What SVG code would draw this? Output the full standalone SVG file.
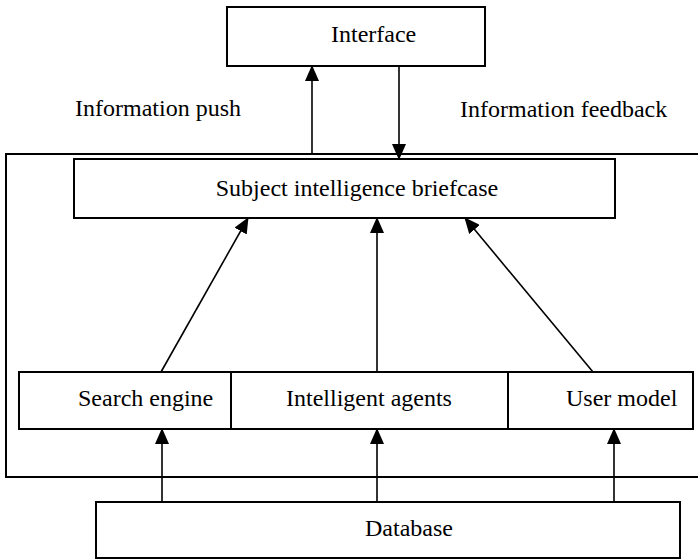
<svg xmlns="http://www.w3.org/2000/svg" width="698" height="560" viewBox="0 0 698 560">
<defs>
<marker id="ah" markerUnits="userSpaceOnUse" markerWidth="16" markerHeight="14" refX="15" refY="7" orient="auto">
<path d="M0,0 L16,7 L0,14 Z" fill="#000"/>
</marker>
</defs>
<style>
.box{fill:#fff;stroke:#000;stroke-width:2}
.frame{fill:none;stroke:#000;stroke-width:2}
.lbl{font-family:"Liberation Serif","Times New Roman",serif;font-size:24px;fill:#000}
.c{fill:none;stroke:#000;stroke-width:1.6;marker-end:url(#ah)}
</style>
<rect class="frame" x="6" y="154" width="700" height="323"/>
<g id="interface"><rect class="box" x="227" y="7" width="258" height="59"/><text class="lbl" x="331" y="42">Interface</text></g>
<g id="briefcase"><rect class="box" x="74" y="159" width="541" height="59"/><text class="lbl" x="357" y="196" text-anchor="middle">Subject intelligence briefcase</text></g>
<g id="search"><rect class="box" x="19" y="372" width="212" height="57"/><text class="lbl" x="78" y="406">Search engine</text></g>
<g id="agents"><rect class="box" x="231" y="372" width="277" height="57"/><text class="lbl" x="286" y="406">Intelligent agents</text></g>
<g id="usermodel"><rect class="box" x="508" y="372" width="185" height="57"/><text class="lbl" x="566" y="406">User model</text></g>
<g id="database"><rect class="box" x="96" y="502" width="584" height="56"/><text class="lbl" x="365" y="536">Database</text></g>
<g id="labels"><text class="lbl" x="75" y="116">Information push</text><text class="lbl" x="460" y="117">Information feedback</text></g>
<g id="connectors">
<line class="c" x1="312" y1="154" x2="312" y2="66"/>
<line class="c" x1="399" y1="66" x2="399" y2="159"/>
<line class="c" x1="161" y1="372" x2="248" y2="218"/>
<line class="c" x1="377" y1="372" x2="377" y2="218"/>
<line class="c" x1="593" y1="372" x2="465" y2="218"/>
<line class="c" x1="162" y1="502" x2="162" y2="429"/>
<line class="c" x1="377" y1="502" x2="377" y2="429"/>
<line class="c" x1="614" y1="502" x2="614" y2="429"/>
</g>
</svg>
